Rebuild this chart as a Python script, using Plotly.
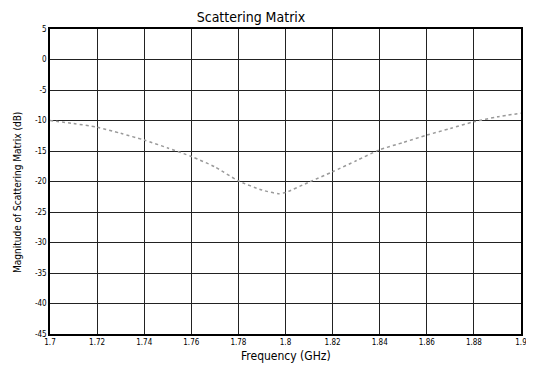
import plotly.graph_objects as go

freq_ghz = [1.70, 1.71, 1.72, 1.73, 1.74, 1.75, 1.76, 1.77, 1.78, 1.79, 1.797, 1.80,
            1.81, 1.82, 1.83, 1.84, 1.85, 1.86, 1.87, 1.88, 1.89, 1.90]
magnitude_db = [-10.0, -10.5, -11.1, -12.1, -13.2, -14.5, -15.9, -17.6, -19.9, -21.4, -22.0, -21.8,
                -20.1, -18.4, -16.6, -14.8, -13.6, -12.4, -11.3, -10.2, -9.4, -8.8]

x_tick_vals = [1.70, 1.72, 1.74, 1.76, 1.78, 1.80, 1.82, 1.84, 1.86, 1.88, 1.90]
x_tick_text = ["1.7", "1.72", "1.74", "1.76", "1.78", "1.8", "1.82", "1.84", "1.86", "1.88", "1.9"]
y_tick_vals = [5, 0, -5, -10, -15, -20, -25, -30, -35, -40, -45]
y_tick_text = ["5", "0", "-5", "-10", "-15", "-20", "-25", "-30", "-35", "-40", "-45"]

FONT = "DejaVu Sans Condensed, Liberation Sans Narrow, sans-serif"

# page body has an 8px default margin; compensate so the plot area lands at x 50-521, y 29-334
W, H = 526, 362

fig = go.Figure()
fig.add_trace(go.Scatter(
    x=freq_ghz, y=magnitude_db, mode="lines",
    line=dict(color="#9a9a9a", width=1.5, dash="dot", shape="spline", smoothing=0.6),
    showlegend=False, hoverinfo="skip",
))

fig.update_layout(
    width=W, height=H,
    margin=dict(l=42, r=13, t=21, b=36),
    paper_bgcolor="white", plot_bgcolor="white",
    font=dict(family=FONT, color="black"),
    title=dict(text="Scattering Matrix", x=(251 - 8) / W, xref="container", xanchor="center",
               y=1 - 4 / H, yref="container", yanchor="top",
               font=dict(size=14, family=FONT, color="black")),
    xaxis=dict(
        range=[1.70, 1.90], tickvals=x_tick_vals, ticktext=x_tick_text,
        showgrid=True, gridcolor="#222", gridwidth=1.2,
        showline=True, linecolor="black", linewidth=1.5, mirror=True,
        ticks="", tickfont=dict(size=8, family=FONT), zeroline=False,
        automargin=False,
    ),
    yaxis=dict(
        range=[-45, 5], tickvals=y_tick_vals, ticktext=y_tick_text,
        showgrid=True, gridcolor="#222", gridwidth=1.2,
        showline=True, linecolor="black", linewidth=1.5, mirror=True,
        ticks="", tickfont=dict(size=8, family=FONT), zeroline=False,
        automargin=False,
    ),
    annotations=[
        dict(text="Frequency (GHz)", xref="paper", yref="paper", x=0.5, y=-22 / 305,
             xanchor="center", yanchor="middle", showarrow=False,
             font=dict(size=12, family=FONT, color="black")),
        dict(text="Magnitude of Scattering Matrix (dB)", xref="paper", yref="paper",
             x=-33 / 471, y=(334 - 193) / 305, xanchor="center", yanchor="middle",
             textangle=-90, showarrow=False,
             font=dict(size=10, family=FONT, color="black")),
    ],
)

fig.write_html("out.html")
